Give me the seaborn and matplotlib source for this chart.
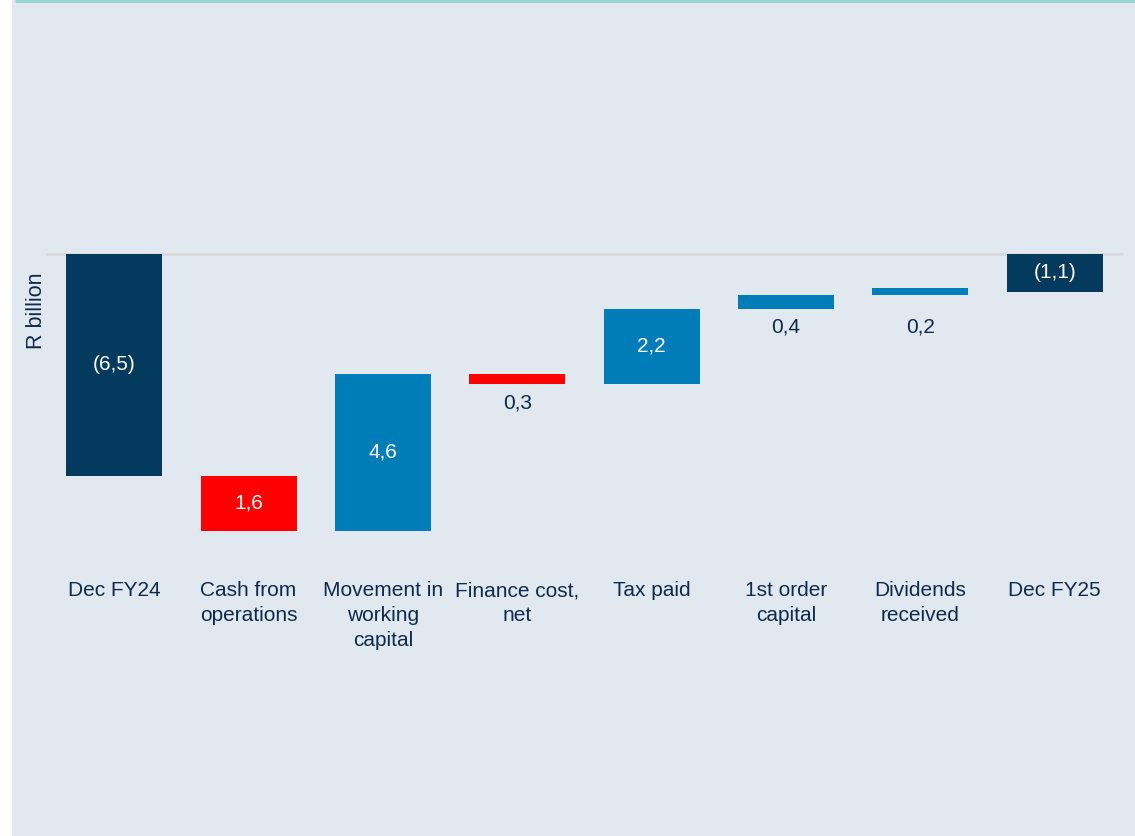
import matplotlib
matplotlib.use("Agg")
import matplotlib.pyplot as plt
import seaborn as sns
import pandas as pd
import numpy as np
from matplotlib.patches import Rectangle
from matplotlib.lines import Line2D

# Cash flow bridge, R billion
categories = ["Dec FY24", "Cash from\noperations", "Movement in\nworking\ncapital",
              "Finance cost,\nnet", "Tax paid", "1st order\ncapital",
              "Dividends\nreceived", "Dec FY25"]
opening = -6.5
movements = [-1.6, 4.6, -0.3, 2.2, 0.4, 0.2]
closing = -1.1

NAVY = "#033A5E"
BLUE = "#007DB8"
RED = "#FF0000"
TEXT = "#0D2B4E"
BG = "#E1E8EF"

# waterfall geometry
heights = [opening]
bottoms = [0.0]
level = opening
for m in movements:
    bottoms.append(level)
    heights.append(m)
    level += m
heights.append(closing)
bottoms.append(0.0)

colors = [NAVY] + [BLUE if m > 0 else RED for m in movements] + [NAVY]

def fmt(v, total=False):
    s = f"{abs(v):.1f}".replace(".", ",")
    return f"({s})" if (total and v < 0) else s

labels = [fmt(opening, True)] + [fmt(m) for m in movements] + [fmt(closing, True)]

df = pd.DataFrame({"category": categories, "height": heights, "bottom": bottoms})

sns.set_style("white")
plt.rcParams["font.family"] = ["Liberation Sans", "DejaVu Sans"]

W, H = 1135, 836
fig = plt.figure(figsize=(W / 100, H / 100), dpi=100, facecolor="white")

# panel background and top accent line
fig.patches.append(Rectangle((12 / W, 0), 1 - 12 / W, 1, transform=fig.transFigure,
                             facecolor=BG, edgecolor="none", zorder=-5))
fig.lines.append(Line2D([16 / W, 1], [1 - 1 / H, 1 - 1 / H], transform=fig.transFigure,
                        color="#8ED6D2", lw=2, zorder=-4))

scale = 34.15  # pixels per R billion
ax_left, ax_right = 47, 1122
ax_top, ax_bottom = 254, 566
ax = fig.add_axes([ax_left / W, 1 - ax_bottom / H, (ax_right - ax_left) / W,
                   (ax_bottom - ax_top) / H])
ax.set_facecolor("none")
ax.set_zorder(2)

sns.barplot(data=df, x="category", y="height", color=NAVY,
            bottom=df["bottom"].to_numpy(), width=0.714, saturation=1,
            edgecolor="none", linewidth=0, ax=ax, zorder=2)
for patch, c in zip(ax.patches, colors):
    patch.set_facecolor(c)

ax.set_xlim(-0.5, 7.5)
ax.set_ylim(-(ax_bottom - ax_top) / scale, 0)
ax.axhline(0, color="#D9D9D9", lw=2, zorder=1, clip_on=False)

for s in ax.spines.values():
    s.set_visible(False)
ax.set_yticks([])
ax.set_xlabel("")
ax.set_ylabel("")
ax.tick_params(axis="x", length=0, pad=11, labelsize=15, labelcolor=TEXT)
for t in ax.get_xticklabels():
    t.set_linespacing(1.38)

# value labels: inside for large bars, beneath for thin ones
below = {3, 5, 6}
for i, (h, b, lab) in enumerate(zip(heights, bottoms, labels)):
    lo = min(b, b + h)
    hi = max(b, b + h)
    if i in below:
        y = lo - 0.55
        if i == 6:
            y = min(bottoms[5], bottoms[5] + heights[5]) - 0.55
        ax.text(i, y, lab, ha="center", va="center", color=TEXT, fontsize=15, zorder=3)
    else:
        ax.text(i, (lo + hi) / 2, lab, ha="center", va="center", color="white",
                fontsize=15, zorder=3)

fig.text(37 / W, 1 - 311 / H, "R billion", rotation=90, ha="center", va="center",
         color=TEXT, fontsize=15.5)

fig.savefig("out.png", dpi=100, facecolor=fig.get_facecolor())
